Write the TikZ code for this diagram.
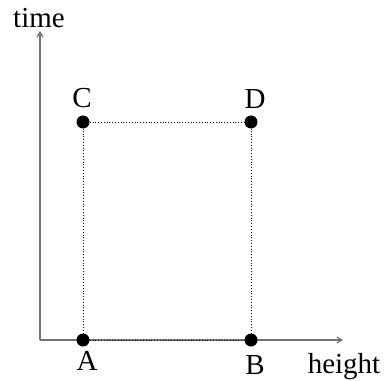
\documentclass[tikz,border=0pt]{standalone}
\usepackage{fontspec}
\setmainfont{Liberation Serif}
\usetikzlibrary{arrows.meta}

\begin{document}
\begin{tikzpicture}[
        x=1pt, y=1pt,
        pnt/.style={circle, fill=black, draw=none, inner sep=0pt,
                    minimum size=13pt},
        axis/.style={-{Straight Barb[length=5pt, width=6pt]}, line width=1.2pt, black!55},
        guide/.style={dotted, line width=0.8pt, black},
        lbl/.style={font=\fontsize{29}{31}\selectfont, anchor=base, inner sep=0pt},
      ]
        \useasboundingbox (0,0) rectangle (390,380);

        % Axes
        \coordinate (orig)  at (40, 40);
        \coordinate (tend)  at (40, 349);
        \coordinate (hend)  at (343, 40);
        \draw[axis] (orig) -- (tend);
        \draw[axis] (orig) -- (hend);

        % Corner points
        \node[pnt] (a) at (83, 40)  {};
        \node[pnt] (b) at (251, 40) {};
        \node[pnt] (c) at (83, 258) {};
        \node[pnt] (d) at (251, 258) {};

        \draw[guide] (a) -- (b);
        \draw[guide] (a) -- (c);
        \draw[guide] (b) -- (d);
        \draw[guide] (c) -- (d);

        % Labels
        \node[lbl] (tlbl) at (39, 352)  {time};
        \node[lbl] (hlbl) at (344, 7)   {height};
        \node[lbl] (albl) at (87, 10)   {A};
        \node[lbl] (blbl) at (255, 6)   {B};
        \node[lbl] (clbl) at (82, 272)  {C};
        \node[lbl] (dlbl) at (255, 271) {D};
      \end{tikzpicture}
\end{document}
